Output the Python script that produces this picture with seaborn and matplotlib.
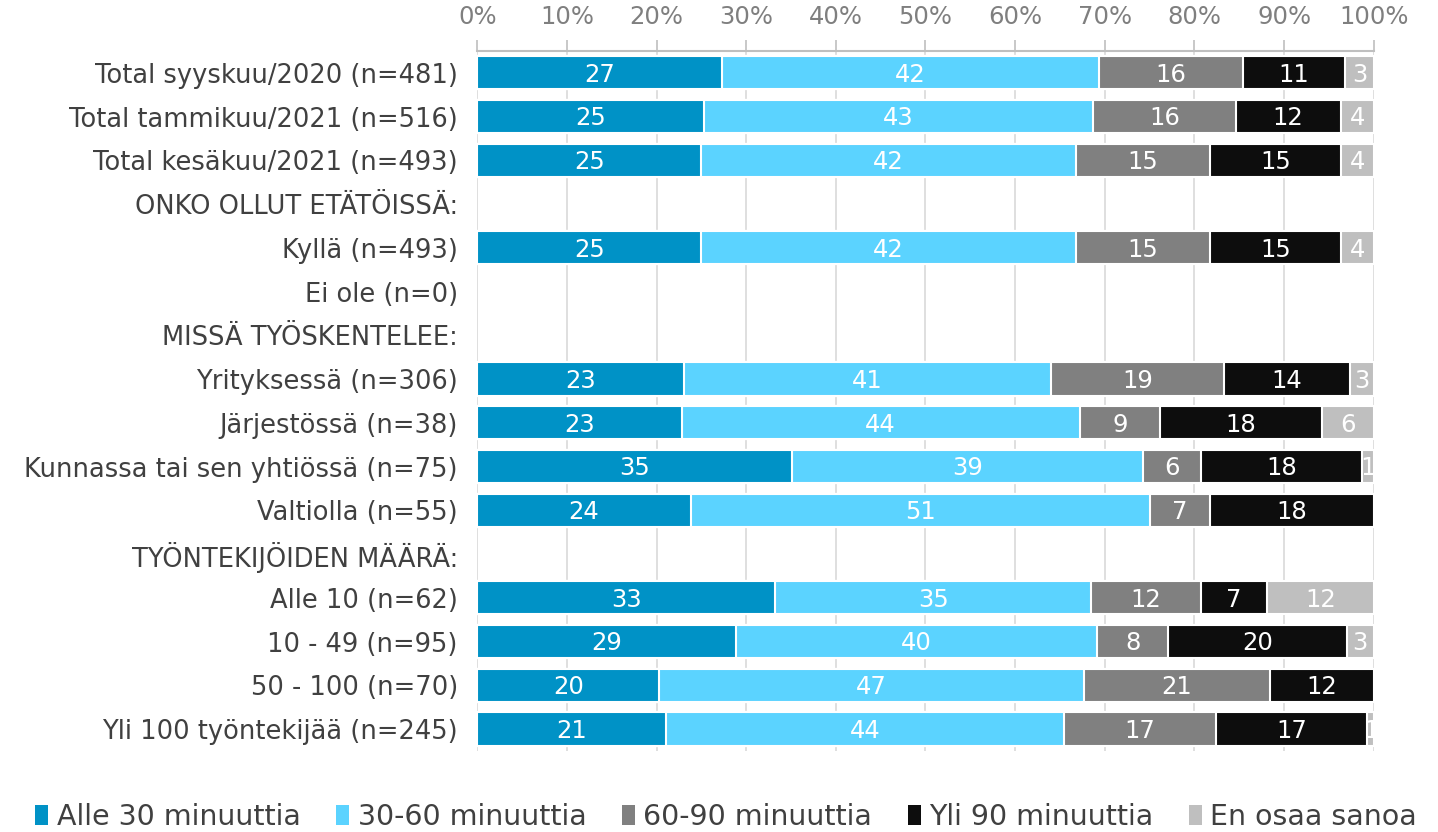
import numpy as np
import pandas as pd
import matplotlib.pyplot as plt
import seaborn as sns
from matplotlib.patches import Patch

nan = np.nan

categories = [
    'Total syyskuu/2020 (n=481)',
    'Total tammikuu/2021 (n=516)',
    'Total kesäkuu/2021 (n=493)',
    'ONKO OLLUT ETÄTÖISSÄ:',
    'Kyllä (n=493)',
    'Ei ole (n=0)',
    'MISSÄ TYÖSKENTELEE:',
    'Yrityksessä (n=306)',
    'Järjestössä (n=38)',
    'Kunnassa tai sen yhtiössä (n=75)',
    'Valtiolla (n=55)',
    'TYÖNTEKIJÖIDEN MÄÄRÄ:',
    'Alle 10 (n=62)',
    '10 - 49 (n=95)',
    '50 - 100 (n=70)',
    'Yli 100 työntekijää (n=245)',
]

series_names = ['Alle 30 minuuttia', '30-60 minuuttia', '60-90 minuuttia',
                'Yli 90 minuuttia', 'En osaa sanoa']

alle_30 = [27.3, 25.3, 25.0, nan, 25.0, nan, nan, 23.1, 22.8, 35.1, 23.8, nan, 33.2, 28.9, 20.3, 21.1]
min_30_60 = [42.0, 43.4, 41.8, nan, 41.8, nan, nan, 40.9, 44.4, 39.2, 51.2, nan, 35.3, 40.2, 47.4, 44.4]
min_60_90 = [16.1, 15.9, 14.9, nan, 14.9, nan, nan, 19.3, 9.0, 6.4, 6.7, nan, 12.2, 8.0, 20.7, 16.9]
yli_90 = [11.4, 11.7, 14.7, nan, 14.7, nan, nan, 14.0, 18.0, 18.0, 18.3, nan, 7.4, 19.9, 11.6, 16.9]
en_osaa = [3.2, 3.7, 3.6, nan, 3.6, nan, nan, 2.7, 5.8, 1.3, 0.0, nan, 11.9, 3.0, 0.0, 0.7]

colors = ['#0092C6', '#5BD3FF', '#808080', '#0D0D0D', '#BFBFBF']

sns.set_theme(style='white')
plt.rcParams['font.family'] = ['DejaVu Sans']

df = pd.DataFrame({'cat': categories,
                   series_names[0]: alle_30,
                   series_names[1]: min_30_60,
                   series_names[2]: min_60_90,
                   series_names[3]: yli_90,
                   series_names[4]: en_osaa})
cum = df[series_names].cumsum(axis=1)

fig = plt.figure(figsize=(14.38, 8.32), dpi=100)
ax = fig.add_axes([0.3319, 0.0974, 0.9553 - 0.3319, 0.9387 - 0.0974])

# stacked bars: draw cumulative totals from the longest down
for i in reversed(range(len(series_names))):
    sns.barplot(x=cum[series_names[i]], y=df['cat'], order=categories,
                color=colors[i], orient='h', width=0.76,
                edgecolor='white', linewidth=1.5, saturation=1, ax=ax)

# data labels
for i, name in enumerate(series_names):
    prev = cum[series_names[i - 1]] if i > 0 else 0 * cum[name]
    for row, (v, p) in enumerate(zip(df[name], prev)):
        if pd.notna(v) and v > 0:
            ax.text(p + v / 2, row + 0.04, f'{v:.0f}', ha='center', va='center',
                    color='white', fontsize=17.5, clip_on=True)

ax.set_xlim(0, 100)
ax.set_ylim(len(categories) - 0.5, -0.5)
ax.xaxis.tick_top()
ax.set_xticks(np.arange(0, 101, 10))
ax.set_xticklabels([f'{t}%' for t in range(0, 101, 10)])
ax.tick_params(axis='x', top=True, bottom=False, length=8, width=1.2,
               color='#bfbfbf', labelcolor='#7f7f7f', labelsize=17.5, pad=8)
ax.tick_params(axis='y', length=0, labelsize=18.5, labelcolor='#404040', pad=14)
ax.set_xlabel('')
ax.set_ylabel('')
ax.grid(axis='x', color='#d9d9d9', linewidth=1.2)
ax.set_axisbelow(True)
for s in ['left', 'right', 'bottom']:
    ax.spines[s].set_visible(False)
ax.spines['top'].set_color('#bfbfbf')
ax.spines['top'].set_linewidth(1.5)

handles = [Patch(facecolor=c, edgecolor='none') for c in colors]
fig.legend(handles, series_names, loc='lower center', bbox_to_anchor=(0.505, -0.03),
           ncol=5, frameon=False, fontsize=20.5, handlelength=0.45, handleheight=0.7,
           handletextpad=0.3, columnspacing=1.25, labelcolor='#404040')

fig.savefig('out.png', dpi=100)
